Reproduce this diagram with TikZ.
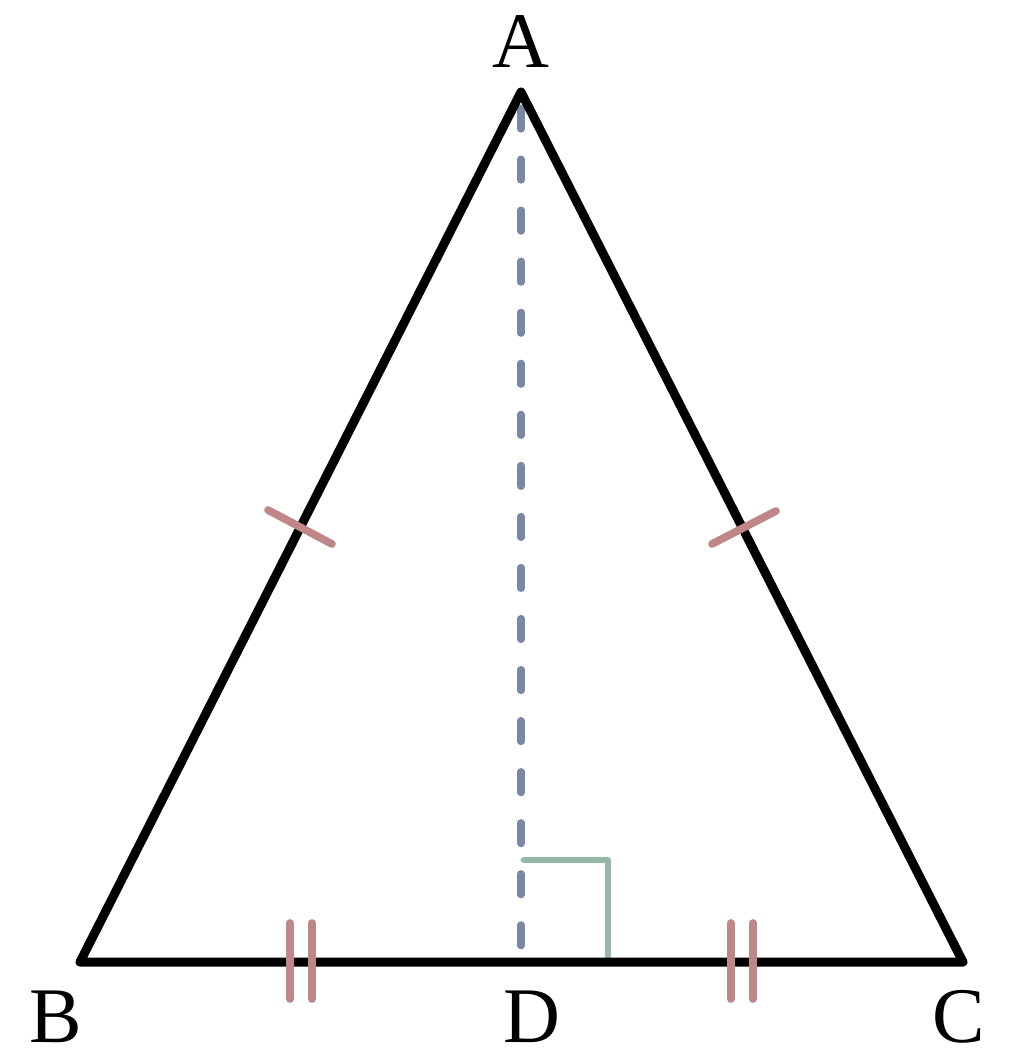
\documentclass[tikz,border=0pt]{standalone}
\usepackage{fontspec}
\setmainfont{Liberation Serif}
\definecolor{markred}{HTML}{BF8787}
\definecolor{heightblue}{HTML}{7A88A6}
\definecolor{rightgreen}{HTML}{97B8A4}

\begin{document}
\begin{tikzpicture}[
    x=0.025cm, y=-0.025cm,
    font=\fontsize{56}{56}\selectfont,
    side/.style={line width=6.4pt, black, line join=round},
    eqmark/.style={line width=5.5pt, markred, line cap=round},
    heightline/.style={line width=5pt, heightblue, line cap=round, dash pattern=on 15pt off 21.3pt},
    rightmark/.style={line width=4.8pt, rightgreen, line cap=round, line join=round}
]
    \useasboundingbox (0,0) rectangle (1008,1059);
    % Points
    \coordinate (A) at (521,92);
    \coordinate (B) at (80,962);
    \coordinate (C) at (963,962);
    \coordinate (D) at (521,962);

    % Labels
    \node[inner sep=0pt] (labA) at (521,42) {A};
    \node[inner sep=0pt] (labB) at (56,1017) {B};
    \node[inner sep=0pt] (labD) at (532,1017) {D};
    \node[inner sep=0pt] (labC) at (959,1017) {C};

    % Height AD
    \draw[heightline] (521,108) -- (521,952);

    % Right angle at D
    \draw[rightmark] (524,860) -- (608,860) -- (608,960);

    % Triangle
    \draw[side] (A) -- (B) -- (C) -- cycle;

    % Equal sides AB and AC
    \draw[eqmark] (268,510) -- (332,544);
    \draw[eqmark] (712,544) -- (776,511);

    % Equal parts BD and DC
    \draw[eqmark] (290,923) -- (290,999);
    \draw[eqmark] (312,923) -- (312,999);
    \draw[eqmark] (731,923) -- (731,999);
    \draw[eqmark] (753,923) -- (753,999);
\end{tikzpicture}
\end{document}
